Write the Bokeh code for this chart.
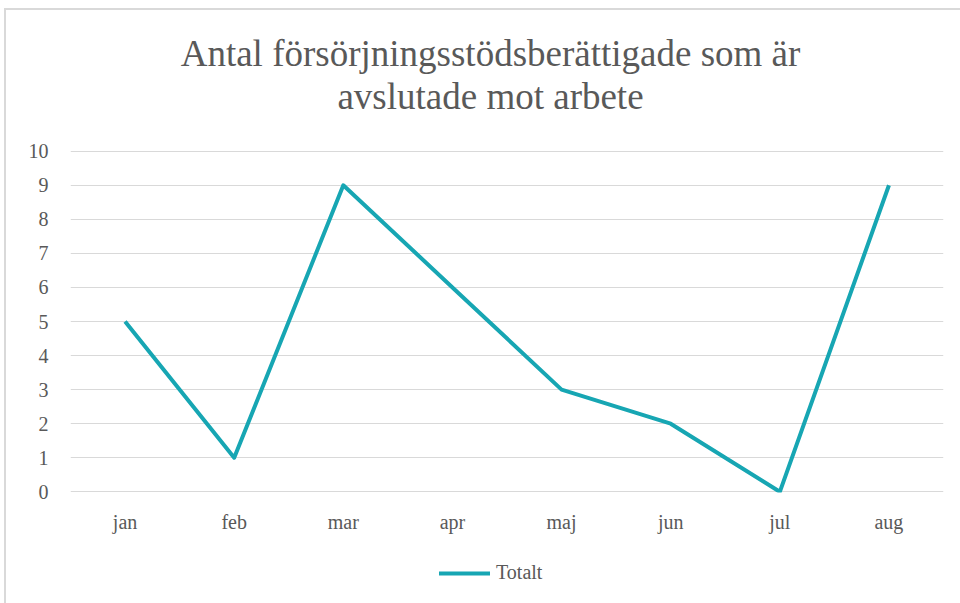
from bokeh.plotting import figure
from bokeh.layouts import column
from bokeh.models import FixedTicker, Legend, LegendItem, Range1d, ColumnDataSource
from bokeh.core.properties import value
from bokeh.embed import file_html
from bokeh.resources import INLINE

months = ["jan", "feb", "mar", "apr", "maj", "jun", "jul", "aug"]
totalt = [5, 1, 9, 6, 3, 2, 0, 9]
y_ticks = [0, 1, 2, 3, 4, 5, 6, 7, 8, 9, 10]
title_lines = ["Antal försörjningsstödsberättigade som är", "avslutade mot arbete"]
series_name = "Totalt"

FONT = "Liberation Serif"
TEXT = "#595959"
LINE = "#17A6B3"
FRAME = "#d9d9d9"

FRAME_LEFT, FRAME_RIGHT = 70, 943

# ---- title strip (x in page pixels since frames are aligned, y pointing down) ----
ts = figure(width=960, height=138, x_range=Range1d(FRAME_LEFT, FRAME_RIGHT),
            y_range=Range1d(138, 0), output_backend="svg", toolbar_location=None,
            min_border=0)
ts.axis.visible = False
ts.grid.visible = False
ts.outline_line_color = None
ts.background_fill_alpha = 0
ts.border_fill_alpha = 0
title_src = ColumnDataSource(dict(x=[490, 490], y=[53, 96], text=title_lines))
ts.text(x="x", y="y", text="text", source=title_src, text_align="center",
        text_baseline="alphabetic", text_font=value(FONT), text_font_size="37px",
        text_color=TEXT)

# ---- main chart ----
p = figure(x_range=months, y_range=Range1d(-0.02, 10.02), width=960, height=402,
           output_backend="svg", toolbar_location=None,
           min_border_left=FRAME_LEFT, min_border_right=960 - FRAME_RIGHT,
           min_border_top=12, min_border_bottom=48)
p.background_fill_alpha = 0
p.border_fill_alpha = 0

r = p.line(months, totalt, line_color=LINE, line_width=4, line_join="round")

p.outline_line_color = None
p.xgrid.grid_line_color = None
p.ygrid.grid_line_color = FRAME
p.ygrid.grid_line_width = 1
p.yaxis.ticker = FixedTicker(ticks=y_ticks)
for ax in (p.xaxis, p.yaxis):
    ax.axis_line_color = None
    ax.major_tick_line_color = None
    ax.minor_tick_line_color = None
    ax.major_label_text_font = FONT
    ax.major_label_text_font_size = "20px"
    ax.major_label_text_color = TEXT
p.yaxis.major_label_standoff = 16
p.xaxis.major_label_standoff = 12
p.x_range.range_padding = 0

# ---- legend strip ----
lg = figure(width=960, height=63, x_range=Range1d(FRAME_LEFT, FRAME_RIGHT),
            y_range=Range1d(0, 63), output_backend="svg", toolbar_location=None,
            min_border=0)
lg.axis.visible = False
lg.grid.visible = False
lg.outline_line_color = None
lg.background_fill_alpha = 0
lg.border_fill_alpha = 0
proxy = lg.line([0, 10], [-50, -50], line_color=LINE, line_width=4, line_cap="round")
legend = Legend(items=[LegendItem(label=series_name, renderers=[proxy])],
                orientation="horizontal", location=(439 - FRAME_LEFT, 19),
                label_text_font=FONT, label_text_font_size="20px",
                label_text_color=TEXT, border_line_color=None,
                background_fill_alpha=0, glyph_width=51, glyph_height=22,
                label_standoff=6, padding=0, margin=0)
lg.add_layout(legend, "center")

layout = column(ts, p, lg, spacing=0)
layout.styles = {
    "background": (f"linear-gradient({FRAME},{FRAME}) 4px 8px / 2px 100% no-repeat, "
                   f"linear-gradient({FRAME},{FRAME}) 4px 8px / 100% 2px no-repeat, white")
}

open("out.html", "w").write(file_html(layout, INLINE))
